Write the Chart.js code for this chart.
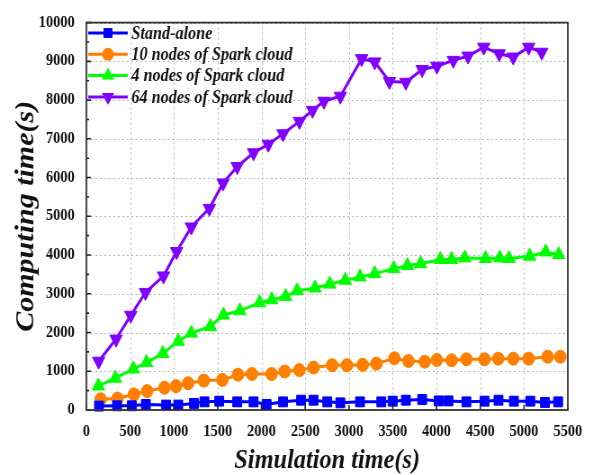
<!DOCTYPE html>
<html>
<head>
<meta charset="utf-8">
<script src="https://cdn.jsdelivr.net/npm/chart.js@4/dist/chart.umd.min.js"></script>
<style>
html,body{margin:0;padding:0;background:#fff;overflow:hidden;}
canvas{display:block;}
</style>
</head>
<body>
<canvas id="c" width="659" height="475" style="width:593px;height:475px;"></canvas>
<script>
const seriesNames = ["Stand-alone", "10 nodes of Spark cloud", "4 nodes of Spark cloud", "64 nodes of Spark cloud"];
const xTicks = [0,500,1000,1500,2000,2500,3000,3500,4000,4500,5000,5500];
const yTicks = [0,1000,2000,3000,4000,5000,6000,7000,8000,9000,10000];

const standaloneX = [144,350,519,679,911,1049,1229,1349,1517,1723,1910,2059,2247,2452,2595,2752,2901,3126,3369,3499,3650,3836,4024,4136,4341,4548,4708,4884,5071,5239,5389];
const standaloneY = [101,109,109,144,127,127,170,210,228,210,210,144,210,253,253,210,185,210,210,228,253,271,235,235,210,228,253,228,228,195,210];

const spark10X = [163,355,544,694,892,1024,1162,1341,1554,1731,1891,2116,2265,2433,2595,2808,2976,3156,3313,3519,3679,3866,4004,4173,4341,4548,4705,4877,5053,5269,5415];
const spark10Y = [278,296,405,489,575,615,691,759,777,911,929,929,995,1030,1096,1157,1157,1165,1197,1334,1266,1248,1291,1283,1309,1309,1324,1324,1324,1375,1375];

const spark4X = [137,331,536,687,873,1049,1199,1416,1566,1753,1978,2119,2276,2407,2613,2781,2957,3126,3294,3511,3668,3818,4043,4173,4323,4559,4723,4828,5064,5247,5396];
const spark4Y = [620,820,1060,1225,1460,1775,1985,2155,2450,2560,2770,2845,2930,3080,3150,3250,3350,3435,3520,3650,3730,3775,3885,3885,3925,3910,3925,3910,3970,4080,4010];

const spark64X = [140,339,507,675,881,1031,1199,1405,1562,1723,1910,2078,2247,2434,2583,2714,2901,3145,3294,3462,3650,3836,4004,4192,4360,4540,4716,4877,5053,5202];
const spark64Y = [1260,1830,2445,3035,3460,4090,4725,5205,5860,6285,6640,6860,7130,7450,7735,7970,8100,9070,8985,8480,8460,8790,8875,9025,9135,9365,9195,9110,9365,9235];

function pts(xs, ys){ return xs.map((x,i)=>({x:x, y:ys[i]})); }

const SERIF = "'Liberation Serif', 'Times New Roman', serif";
const styles = [
  {color:'#0000ff', pointStyle:'rect', radius:7, rotation:0},
  {color:'#ff8000', pointStyle:'circle', radius:6.5, rotation:0},
  {color:'#00ff00', pointStyle:'triangle', radius:8, rotation:0},
  {color:'#8000ff', pointStyle:'triangle', radius:8, rotation:180}
];
const allX = [standaloneX, spark10X, spark4X, spark64X];
const allY = [standaloneY, spark10Y, spark4Y, spark64Y];

const datasets = seriesNames.map((n,i)=>({
  label:n,
  data: pts(allX[i], allY[i]),
  borderColor: styles[i].color,
  backgroundColor: styles[i].color,
  borderWidth: 3,
  pointStyle: styles[i].pointStyle,
  pointRadius: styles[i].radius,
  pointRotation: styles[i].rotation,
  pointBorderWidth: 1,
  pointBackgroundColor: styles[i].color,
  pointBorderColor: styles[i].color,
  tension: 0,
  clip: false
}));

function drawMarker(ctx, style, radius, rotation, x, y){
  ctx.save();
  ctx.translate(x,y);
  ctx.rotate(rotation*Math.PI/180);
  ctx.beginPath();
  if (style==='rect'){
    const s = radius*Math.SQRT1_2;
    ctx.rect(-s,-s,2*s,2*s);
  } else if (style==='circle'){
    ctx.arc(0,0,radius,0,Math.PI*2);
  } else {
    for (let k=0;k<3;k++){
      const a = k*2*Math.PI/3;
      const px = Math.sin(a)*radius, py = -Math.cos(a)*radius;
      if(k===0) ctx.moveTo(px,py); else ctx.lineTo(px,py);
    }
    ctx.closePath();
  }
  ctx.fill();
  ctx.restore();
}

const framePlugin = {
  id:'frame',
  beforeDatasetsDraw(chart){
    const {ctx, chartArea:a, scales:{x, y}} = chart;
    ctx.save();
    ctx.strokeStyle = '#b4b4b4';
    ctx.lineWidth = 1;
    ctx.setLineDash([2,3]);
    ctx.beginPath();
    xTicks.forEach(v=>{
      const px = Math.round(x.getPixelForValue(v))+0.5;
      ctx.moveTo(px, a.top); ctx.lineTo(px, a.bottom);
    });
    yTicks.forEach(v=>{
      const py = Math.round(y.getPixelForValue(v))+0.5;
      ctx.moveTo(a.left, py); ctx.lineTo(a.right, py);
    });
    ctx.stroke();
    ctx.restore();
  },
  afterDraw(chart){
    const {ctx, chartArea:a, scales:{x, y}} = chart;
    ctx.save();
    ctx.strokeStyle = '#222';
    ctx.lineWidth = 1.6;
    ctx.beginPath();
    xTicks.forEach(v=>{
      const px = x.getPixelForValue(v);
      ctx.moveTo(px, a.bottom); ctx.lineTo(px, a.bottom-5);
    });
    for (let v=0; v<=10000; v+=500){
      const py = y.getPixelForValue(v);
      const len = (v%1000===0)?5:3;
      ctx.moveTo(a.left, py); ctx.lineTo(a.left+len, py);
    }
    ctx.stroke();
    ctx.strokeStyle = '#333';
    ctx.lineWidth = 1.8;
    ctx.strokeRect(a.left, a.top, a.right-a.left, a.bottom-a.top);
    // legend
    ctx.font = "bold italic 18px " + SERIF;
    ctx.textBaseline = 'middle';
    ctx.textAlign = 'left';
    seriesNames.forEach((n,i)=>{
      const ly = 33 + i*21.3;
      const st = styles[i];
      ctx.strokeStyle = st.color;
      ctx.fillStyle = st.color;
      ctx.lineWidth = 3;
      ctx.beginPath(); ctx.moveTo(98, ly); ctx.lineTo(142, ly); ctx.stroke();
      drawMarker(ctx, st.pointStyle, st.radius, st.rotation, 120, ly);
      ctx.fillStyle = '#111';
      ctx.fillText(n, 146, ly+1);
    });
    ctx.restore();
  }
};

new Chart(document.getElementById('c'), {
  type:'line',
  data:{datasets},
  plugins:[framePlugin],
  options:{
    responsive:false,
    animation:false,
    devicePixelRatio:1,
    layout:{padding:{left:0, right:18, top:15, bottom:0}},
    plugins:{legend:{display:false}, tooltip:{enabled:false}},
    scales:{
      x:{
        type:'linear', min:0, max:5500,
        afterBuildTicks(s){ s.ticks = xTicks.map(v=>({value:v})); },
        afterFit(s){ s.height = 65; },
        ticks:{font:{family:SERIF, size:16, weight:'bold'}, color:'#111', padding:12, maxRotation:0, autoSkip:false, callback:v=>String(v)},
        grid:{display:false, drawTicks:false},
        border:{display:false},
        title:{display:true, text:'Simulation time(s)', font:{family:SERIF, size:27, weight:'bold', style:'italic', lineHeight:1}, color:'#111', padding:{top:0,bottom:0}}
      },
      y:{
        type:'linear', min:0, max:10000,
        afterBuildTicks(s){ s.ticks = yTicks.map(v=>({value:v})); },
        afterFit(s){ s.width = 96; },
        ticks:{font:{family:SERIF, size:16, weight:'bold'}, color:'#111', padding:13, autoSkip:false, callback:v=>String(v)},
        grid:{display:false, drawTicks:false},
        border:{display:false},
        title:{display:true, text:'Computing time(s)', font:{family:SERIF, size:30, weight:'bold', style:'italic', lineHeight:1}, color:'#111', padding:{top:14,bottom:0}}
      }
    }
  }
});
</script>
</body>
</html>
